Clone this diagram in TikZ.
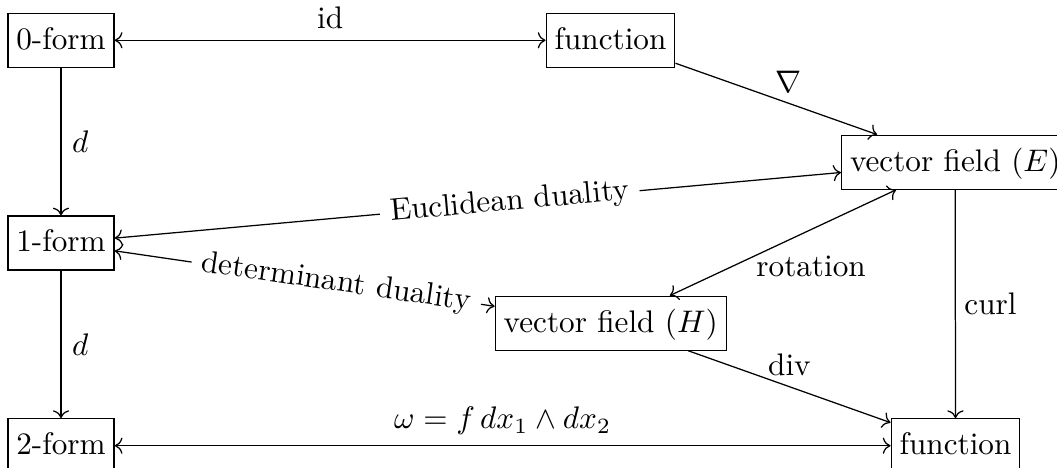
\documentclass[tikz,border=0pt]{standalone}
\usetikzlibrary{cd}
\begin{document}
\begin{tikzpicture}[x=0.3205pt,y=-0.3205pt, >={cm to},
  box/.style={draw, inner xsep=2.7pt, inner ysep=3.3pt, text height=8.2pt, text depth=2.5pt},
  lab/.style={fill=white, sloped}]
\useasboundingbox (0,0) rectangle (1057,468);
\node[box] (z0) at (61,40.3) {0-form};
\node[box] (f1) at (610.5,40.3) {function};
\node[box] (E) at (955.2,162.2) {vector field ($E$)};
\node[box] (one) at (61,243) {1-form};
\node[box] (H) at (610.7,323.2) {vector field ($H$)};
\node[box] (two) at (61,445.7) {2-form};
\node[box] (f2) at (955.5,445.7) {function};
\draw[<->] (z0) -- node[above]{id} (f1);
\draw[->] (z0) -- node[right]{$d$} (one);
\draw[->] (one) -- node[right]{$d$} (two);
\draw[->] (f1) -- node[pos=0.56, above]{$\nabla$} (E);
\draw[<->] (one) -- node[pos=0.544, lab]{Euclidean duality} (E);
\draw[<->] (one) -- node[pos=0.583, lab]{determinant duality} (H);
\draw[<->] (H) -- node[pos=0.38, anchor=north west, inner sep=0pt]{rotation} (E);
\draw[->] (E) -- node[right, inner sep=2.7pt]{curl} (f2);
\draw[->] (H) -- node[above]{div} (f2);
\draw[<->] (two) -- node[above]{$\omega = f\,dx_1 \wedge dx_2$} (f2);
\end{tikzpicture}
\end{document}
